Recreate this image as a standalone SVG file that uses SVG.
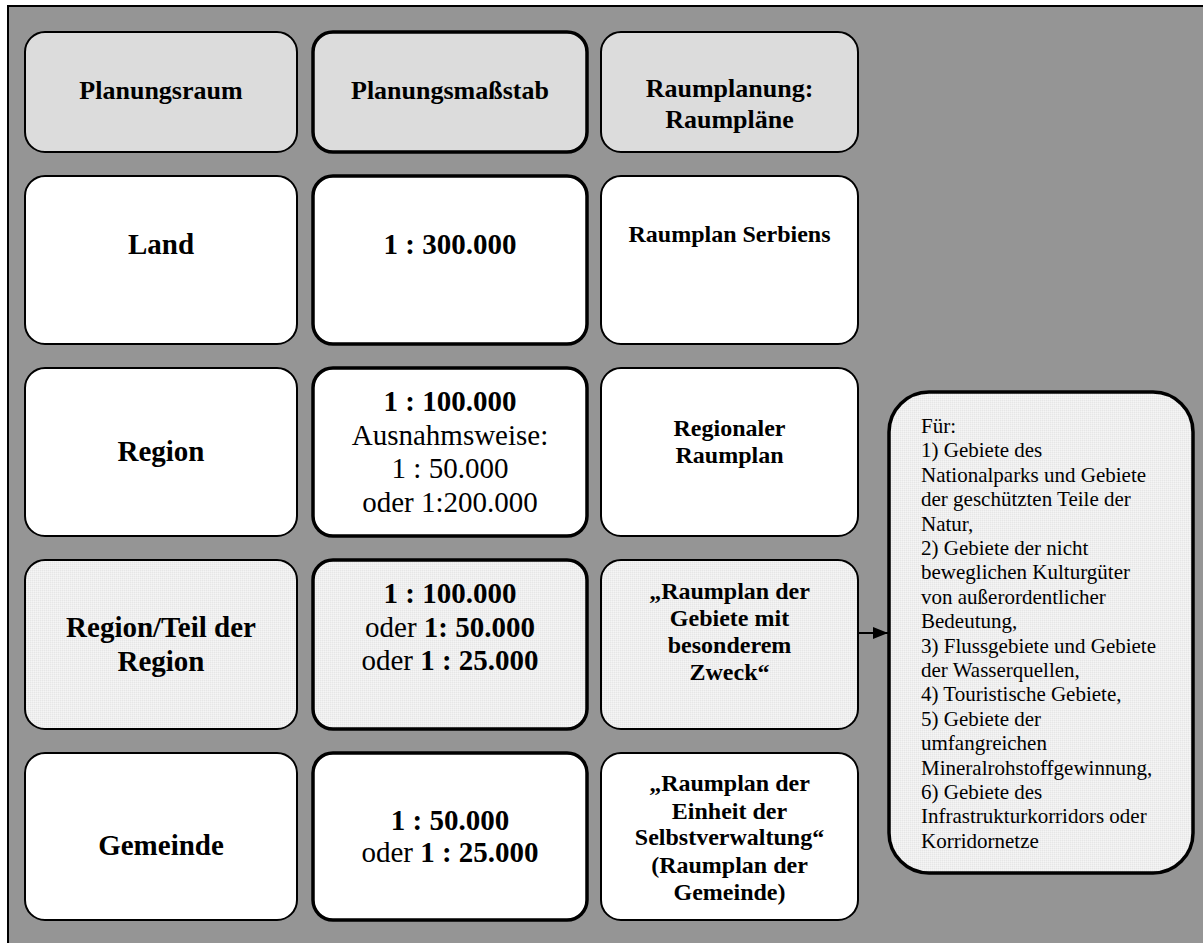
<svg xmlns="http://www.w3.org/2000/svg" width="1203" height="943" viewBox="0 0 1203 943">
  <style>
    text { font-family: "Liberation Serif", "Times New Roman", serif; fill: #000; text-anchor: middle; }
    .b { font-weight: bold; }
    .h { font-size: 26px; font-weight: bold; }
    .m { font-size: 29px; }
    .s { font-size: 24px; font-weight: bold; }
    .note { font-size: 21px; text-anchor: start; }
    .thin { stroke: #000; stroke-width: 2; }
    .thick { stroke: #000; stroke-width: 3.5; }
    .head { fill: #dcdcdc; }
    .plain { fill: #ffffff; }
    .dot { fill: url(#dither); }
    .link { stroke: #000; stroke-width: 2; fill: none; }
  </style>
  <defs>
    <!-- fine light-grey dither used for the highlighted row and the note box -->
    <pattern id="dither" width="2" height="2" patternUnits="userSpaceOnUse">
      <rect width="2" height="2" fill="#efefef"/>
      <rect width="1" height="1" fill="#e6e6e6"/>
      <rect x="1" y="1" width="1" height="1" fill="#f5f5f5"/>
    </pattern>
    <marker id="arrow" markerWidth="15" markerHeight="12" refX="15" refY="6" orient="auto" markerUnits="userSpaceOnUse">
      <path d="M0,0 L15,6 L0,12 Z" fill="#000"/>
    </marker>
  </defs>

  <!-- frame -->
  <rect x="8" y="6" width="1200" height="945" fill="#959595" stroke="#000" stroke-width="2"/>

  <!-- header row -->
  <g id="h-raum">
    <rect class="head thin" x="25" y="32" width="272" height="120" rx="20"/>
    <text class="h" x="161" y="99">Planungsraum</text>
  </g>
  <g id="h-massstab">
    <rect class="head thick" x="313" y="32" width="274" height="120" rx="20"/>
    <text class="h" x="450" y="99">Planungsmaßstab</text>
  </g>
  <g id="h-plaene">
    <rect class="head thin" x="601" y="32" width="257" height="120" rx="20"/>
    <text class="h" x="729.5" y="97">Raumplanung:</text>
    <text class="h" x="729.5" y="128">Raumpläne</text>
  </g>

  <!-- Land -->
  <g id="land">
    <rect class="plain thin" x="25" y="176" width="272" height="168" rx="20"/>
    <text class="m b" x="161" y="254">Land</text>
  </g>
  <g id="land-massstab">
    <rect class="plain thick" x="313" y="176" width="274" height="168" rx="20"/>
    <text class="m b" x="450" y="254">1 : 300.000</text>
  </g>
  <g id="land-plan">
    <rect class="plain thin" x="601" y="176" width="257" height="168" rx="20"/>
    <text class="s" x="729.5" y="242">Raumplan Serbiens</text>
  </g>

  <!-- Region -->
  <g id="region">
    <rect class="plain thin" x="25" y="368" width="272" height="168" rx="20"/>
    <text class="m b" x="161" y="461">Region</text>
  </g>
  <g id="region-massstab">
    <rect class="plain thick" x="313" y="368" width="274" height="168" rx="20"/>
    <text class="m b" x="450" y="411">1 : 100.000</text>
    <text class="m" x="450" y="445">Ausnahmsweise:</text>
    <text class="m" x="450" y="478">1 : 50.000</text>
    <text class="m" x="450" y="512">oder 1:200.000</text>
  </g>
  <g id="region-plan">
    <rect class="plain thin" x="601" y="368" width="257" height="168" rx="20"/>
    <text class="s" x="729.5" y="436">Regionaler</text>
    <text class="s" x="729.5" y="463">Raumplan</text>
  </g>

  <!-- Region / part of region -->
  <g id="teil">
    <rect class="dot thin" x="25" y="560" width="272" height="169" rx="20"/>
    <text class="m b" x="161" y="637">Region/Teil der</text>
    <text class="m b" x="161" y="671">Region</text>
  </g>
  <g id="teil-massstab">
    <rect class="dot thick" x="313" y="560" width="274" height="169" rx="20"/>
    <text class="m b" x="450" y="603">1 : 100.000</text>
    <text class="m" x="450" y="637">oder <tspan class="b">1: 50.000</tspan></text>
    <text class="m" x="450" y="670">oder <tspan class="b">1 : 25.000</tspan></text>
  </g>
  <g id="teil-plan">
    <rect class="dot thin" x="601" y="560" width="257" height="169" rx="20"/>
    <text class="s" x="729.5" y="599">„Raumplan der</text>
    <text class="s" x="729.5" y="626">Gebiete mit</text>
    <text class="s" x="729.5" y="653">besonderem</text>
    <text class="s" x="729.5" y="680">Zweck“</text>
  </g>

  <!-- Gemeinde -->
  <g id="gemeinde">
    <rect class="plain thin" x="25" y="753" width="272" height="167" rx="20"/>
    <text class="m b" x="161" y="855">Gemeinde</text>
  </g>
  <g id="gemeinde-massstab">
    <rect class="plain thick" x="313" y="753" width="274" height="167" rx="20"/>
    <text class="m b" x="450" y="830">1 : 50.000</text>
    <text class="m" x="450" y="862">oder <tspan class="b">1 : 25.000</tspan></text>
  </g>
  <g id="gemeinde-plan">
    <rect class="plain thin" x="601" y="753" width="257" height="167" rx="20"/>
    <text class="s" x="729.5" y="791">„Raumplan der</text>
    <text class="s" x="729.5" y="819">Einheit der</text>
    <text class="s" x="729.5" y="845">Selbstverwaltung“</text>
    <text class="s" x="729.5" y="873">(Raumplan der</text>
    <text class="s" x="729.5" y="900">Gemeinde)</text>
  </g>

  <!-- special-purpose areas -->
  <g id="zweck-liste">
    <rect class="dot thick" x="889" y="392" width="304" height="481" rx="40"/>
    <text class="note" x="921" y="433">Für:</text>
    <text class="note" x="921" y="457.4">1) Gebiete des</text>
    <text class="note" x="921" y="481.8">Nationalparks und Gebiete</text>
    <text class="note" x="921" y="506.2">der geschützten Teile der</text>
    <text class="note" x="921" y="530.6">Natur,</text>
    <text class="note" x="921" y="555">2) Gebiete der nicht</text>
    <text class="note" x="921" y="579.4">beweglichen Kulturgüter</text>
    <text class="note" x="921" y="603.8">von außerordentlicher</text>
    <text class="note" x="921" y="628.2">Bedeutung,</text>
    <text class="note" x="921" y="652.6">3) Flussgebiete und Gebiete</text>
    <text class="note" x="921" y="677">der Wasserquellen,</text>
    <text class="note" x="921" y="701.4">4) Touristische Gebiete,</text>
    <text class="note" x="921" y="725.8">5) Gebiete der</text>
    <text class="note" x="921" y="750.2">umfangreichen</text>
    <text class="note" x="921" y="774.6">Mineralrohstoffgewinnung,</text>
    <text class="note" x="921" y="799">6) Gebiete des</text>
    <text class="note" x="921" y="823.4">Infrastrukturkorridors oder</text>
    <text class="note" x="921" y="847.8">Korridornetze</text>
  </g>

  <!-- connectors -->
  <g id="connectors">
    <line class="link" x1="858" y1="633" x2="888" y2="633" marker-end="url(#arrow)"/>
  </g>
</svg>
